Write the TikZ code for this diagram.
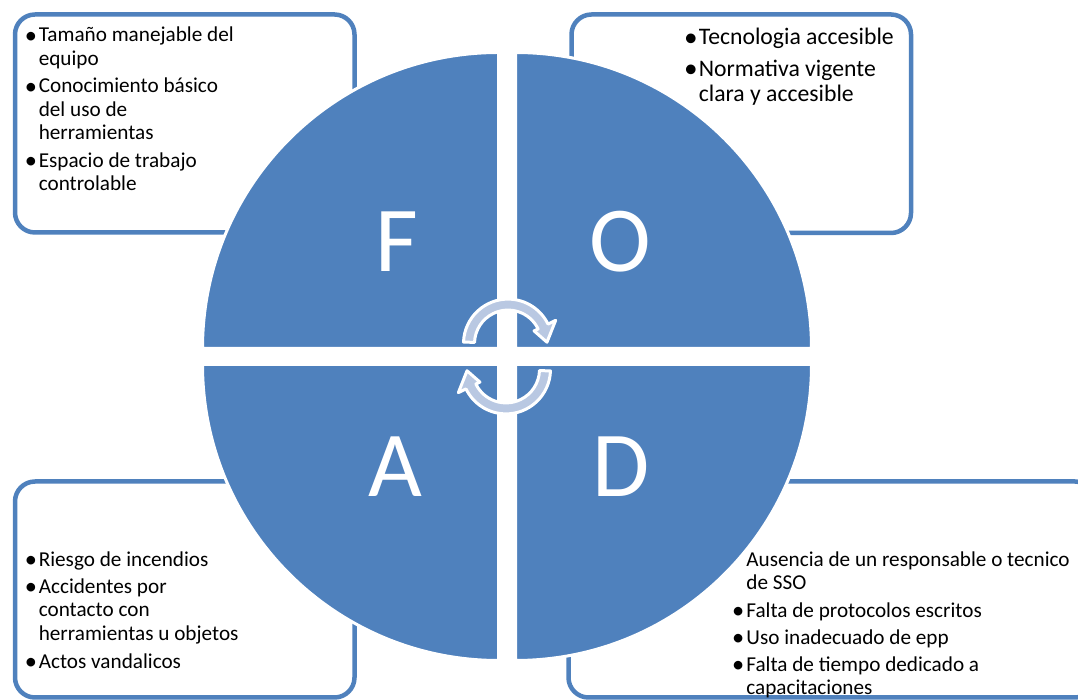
\documentclass[tikz,border=0pt]{standalone}
\usepackage{fontspec}
\usepackage{graphicx}
\setmainfont{Carlito}
\definecolor{qblue}{RGB}{79,129,189}
\definecolor{arrowfill}{RGB}{185,200,226}
\newcommand\blt[1]{\makebox[#1][l]{\hspace{-1.2pt}\raisebox{-0.05em}{\scalebox{1.15}{•}}}}
\tikzset{
  quad/.style={fill=qblue, draw=white, line width=3pt},
  infobox/.style={draw=qblue, fill=white, line width=4.5pt, rounded corners=20pt},
  bigletter/.style={text=white, font=\fontsize{93}{93}\selectfont, anchor=base, inner sep=0pt},
  cyclearrow/.style={fill=arrowfill, draw=white, line width=3pt, line join=round},
  boxtext/.style={anchor=base west, inner sep=0pt, text=black, align=left},
}
\begin{document}
\begin{tikzpicture}[x=1pt,y=1pt]
\useasboundingbox (0,0) rectangle (1078,700);
\clip (0,0) rectangle (1078,700);
% boxes
\draw[infobox] (15,467.5) rectangle (354.5,685.5);
\draw[infobox] (571.5,467) rectangle (911,685.5);
\draw[infobox] (15,2.5) rectangle (354.5,218.5);
\draw[infobox] (568.5,2.5) rectangle (1095,218.5);
% quadrants
\filldraw[quad] (498.5,351.5) -- (202.5,351.5) arc[start angle=180, end angle=90, radius=296] -- cycle;
\filldraw[quad] (515.5,351.5) -- (515.5,647.5) arc[start angle=90, end angle=0, radius=296] -- cycle;
\filldraw[quad] (498.5,335.5) -- (202.5,335.5) arc[start angle=180, end angle=270, radius=296] -- cycle;
\filldraw[quad] (515.5,335.5) -- (515.5,39.5) arc[start angle=270, end angle=360, radius=296] -- cycle;
% letters
\node[bigletter] (F) at (397,428.3) {F};
\node[bigletter] (O) at (620,428.3) {O};
\node[bigletter] (A) at (395,203.3) {A};
\node[bigletter] (D) at (621,203.3) {D};
% cycle arrows
\begin{scope}[shift={(508,356.4)}]
\filldraw[cyclearrow] (178:44.5) arc[start angle=178, end angle=26, radius=44.5] -- (26:53) -- (2:39) -- (26:29) -- (26:33.5) arc[start angle=26, end angle=178, radius=33.5] -- cycle;
\end{scope}
\begin{scope}[shift={(506,330.6)}, rotate=180]
\filldraw[cyclearrow] (178:44.5) arc[start angle=178, end angle=26, radius=44.5] -- (26:53) -- (2:39) -- (26:29) -- (26:33.5) arc[start angle=26, end angle=178, radius=33.5] -- cycle;
\end{scope}
% texts
\node[boxtext, font=\fontsize{21.2}{23.5}\selectfont] (tF) at (26,658) {%
\begin{tabular}[t]{@{}l@{}l@{}}
\blt{12.6pt} & Tamaño manejable del\\
 & equipo\\[4pt]
\blt{12.6pt} & Conocimiento básico\\
 & del uso de\\
 & herramientas\\[4pt]
\blt{12.6pt} & Espacio de trabajo\\
 & controlable
\end{tabular}};
\node[boxtext, font=\fontsize{23.7}{25}\selectfont] (tO) at (685,655) {%
\begin{tabular}[t]{@{}l@{}l@{}}
\blt{13.6pt} & Tecnologia accesible\\[6.7pt]
\blt{13.6pt} & Normativa vigente\\
 & clara y accesible
\end{tabular}};
\node[boxtext, font=\fontsize{21.2}{23.4}\selectfont] (tA) at (26,133.3) {%
\begin{tabular}[t]{@{}l@{}l@{}}
\blt{12.6pt} & Riesgo de incendios\\[3.5pt]
\blt{12.6pt} & Accidentes por\\
 & contacto con\\
 & herramientas u objetos\\[4.5pt]
\blt{12.6pt} & Actos vandalicos
\end{tabular}};
\node[boxtext, font=\fontsize{21.2}{23}\selectfont] (tD) at (733,133.3) {%
\begin{tabular}[t]{@{}l@{}l@{}}
\hspace{13.2pt} & Ausencia de un responsable o tecnico\\
 & de SSO\\[4.4pt]
\blt{13.2pt} & Falta de protocolos escritos\\[4.4pt]
\blt{13.2pt} & Uso inadecuado de epp\\[4.4pt]
\blt{13.2pt} & Falta de tiempo dedicado a\\
 & capacitaciones
\end{tabular}};
\end{tikzpicture}
\end{document}
